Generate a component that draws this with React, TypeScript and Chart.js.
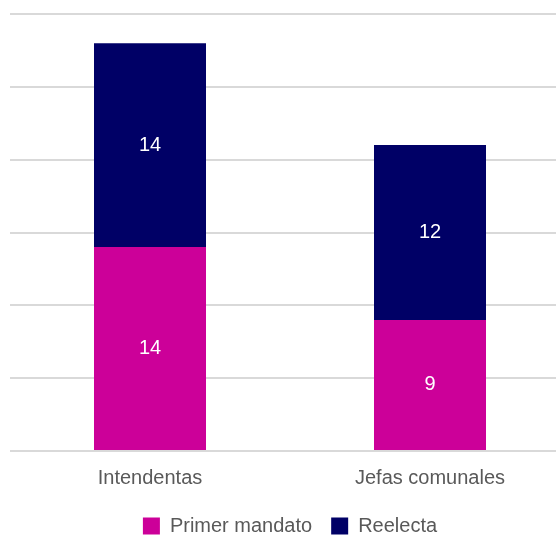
import React, { useEffect, useRef } from "react";
import { Chart, registerables } from "chart.js";

Chart.register(...registerables);

const categories = ["Intendentas", "Jefas comunales"];
const primerMandato = [14, 9];
const reelecta = [14, 12];
const seriesNames = ["Primer mandato", "Reelecta"];

const FONT = "Arial, 'Liberation Sans', sans-serif";

const labelPlugin = {
  id: "segLabels",
  afterDatasetsDraw(chart: any) {
    const ctx = chart.ctx;
    ctx.save();
    ctx.fillStyle = "#ffffff";
    ctx.font = `20px ${FONT}`;
    ctx.textAlign = "center";
    ctx.textBaseline = "middle";
    chart.data.datasets.forEach((ds: any, i: number) => {
      const meta = chart.getDatasetMeta(i);
      meta.data.forEach((bar: any, j: number) => {
        const v = ds.data[j];
        const y = (bar.y + bar.base) / 2;
        ctx.fillText(String(v), bar.x, y);
      });
    });
    ctx.restore();
  },
};

export default function App() {
  const ref = useRef<HTMLCanvasElement>(null);
  useEffect(() => {
    const chart = new Chart(ref.current!, {
      type: "bar",
      data: {
        labels: categories,
        datasets: [
          { label: seriesNames[0], data: primerMandato, backgroundColor: "#CC0099" },
          { label: seriesNames[1], data: reelecta, backgroundColor: "#000066" },
        ],
      },
      options: {
        animation: false,
        responsive: true,
        maintainAspectRatio: false,
        layout: { padding: { left: 10, top: 14, right: 0, bottom: -11 } },
        datasets: { bar: { barPercentage: 0.4, categoryPercentage: 1 } },
        scales: {
          x: {
            stacked: true,
            grid: { display: false },
            border: { display: false },
            ticks: { color: "#595959", font: { family: FONT, size: 20 }, padding: 7 },
          },
          y: {
            stacked: true,
            min: 0,
            max: 30,
            ticks: { display: false, stepSize: 5 },
            border: { display: false },
            grid: { color: "#d9d9d9", lineWidth: 2, drawTicks: false },
          },
        },
        plugins: {
          legend: {
            position: "bottom",
            labels: {
              boxWidth: 17,
              boxHeight: 17,
              color: "#595959",
              font: { family: FONT, size: 20 },
              padding: 19,
            },
          },
          tooltip: { enabled: false },
        },
      },
      plugins: [labelPlugin],
    });
    return () => chart.destroy();
  }, []);
  return (
    <div style={{ position: "fixed", left: 0, top: 0, width: 570, height: 535 }}>
      <canvas ref={ref} />
    </div>
  );
}
